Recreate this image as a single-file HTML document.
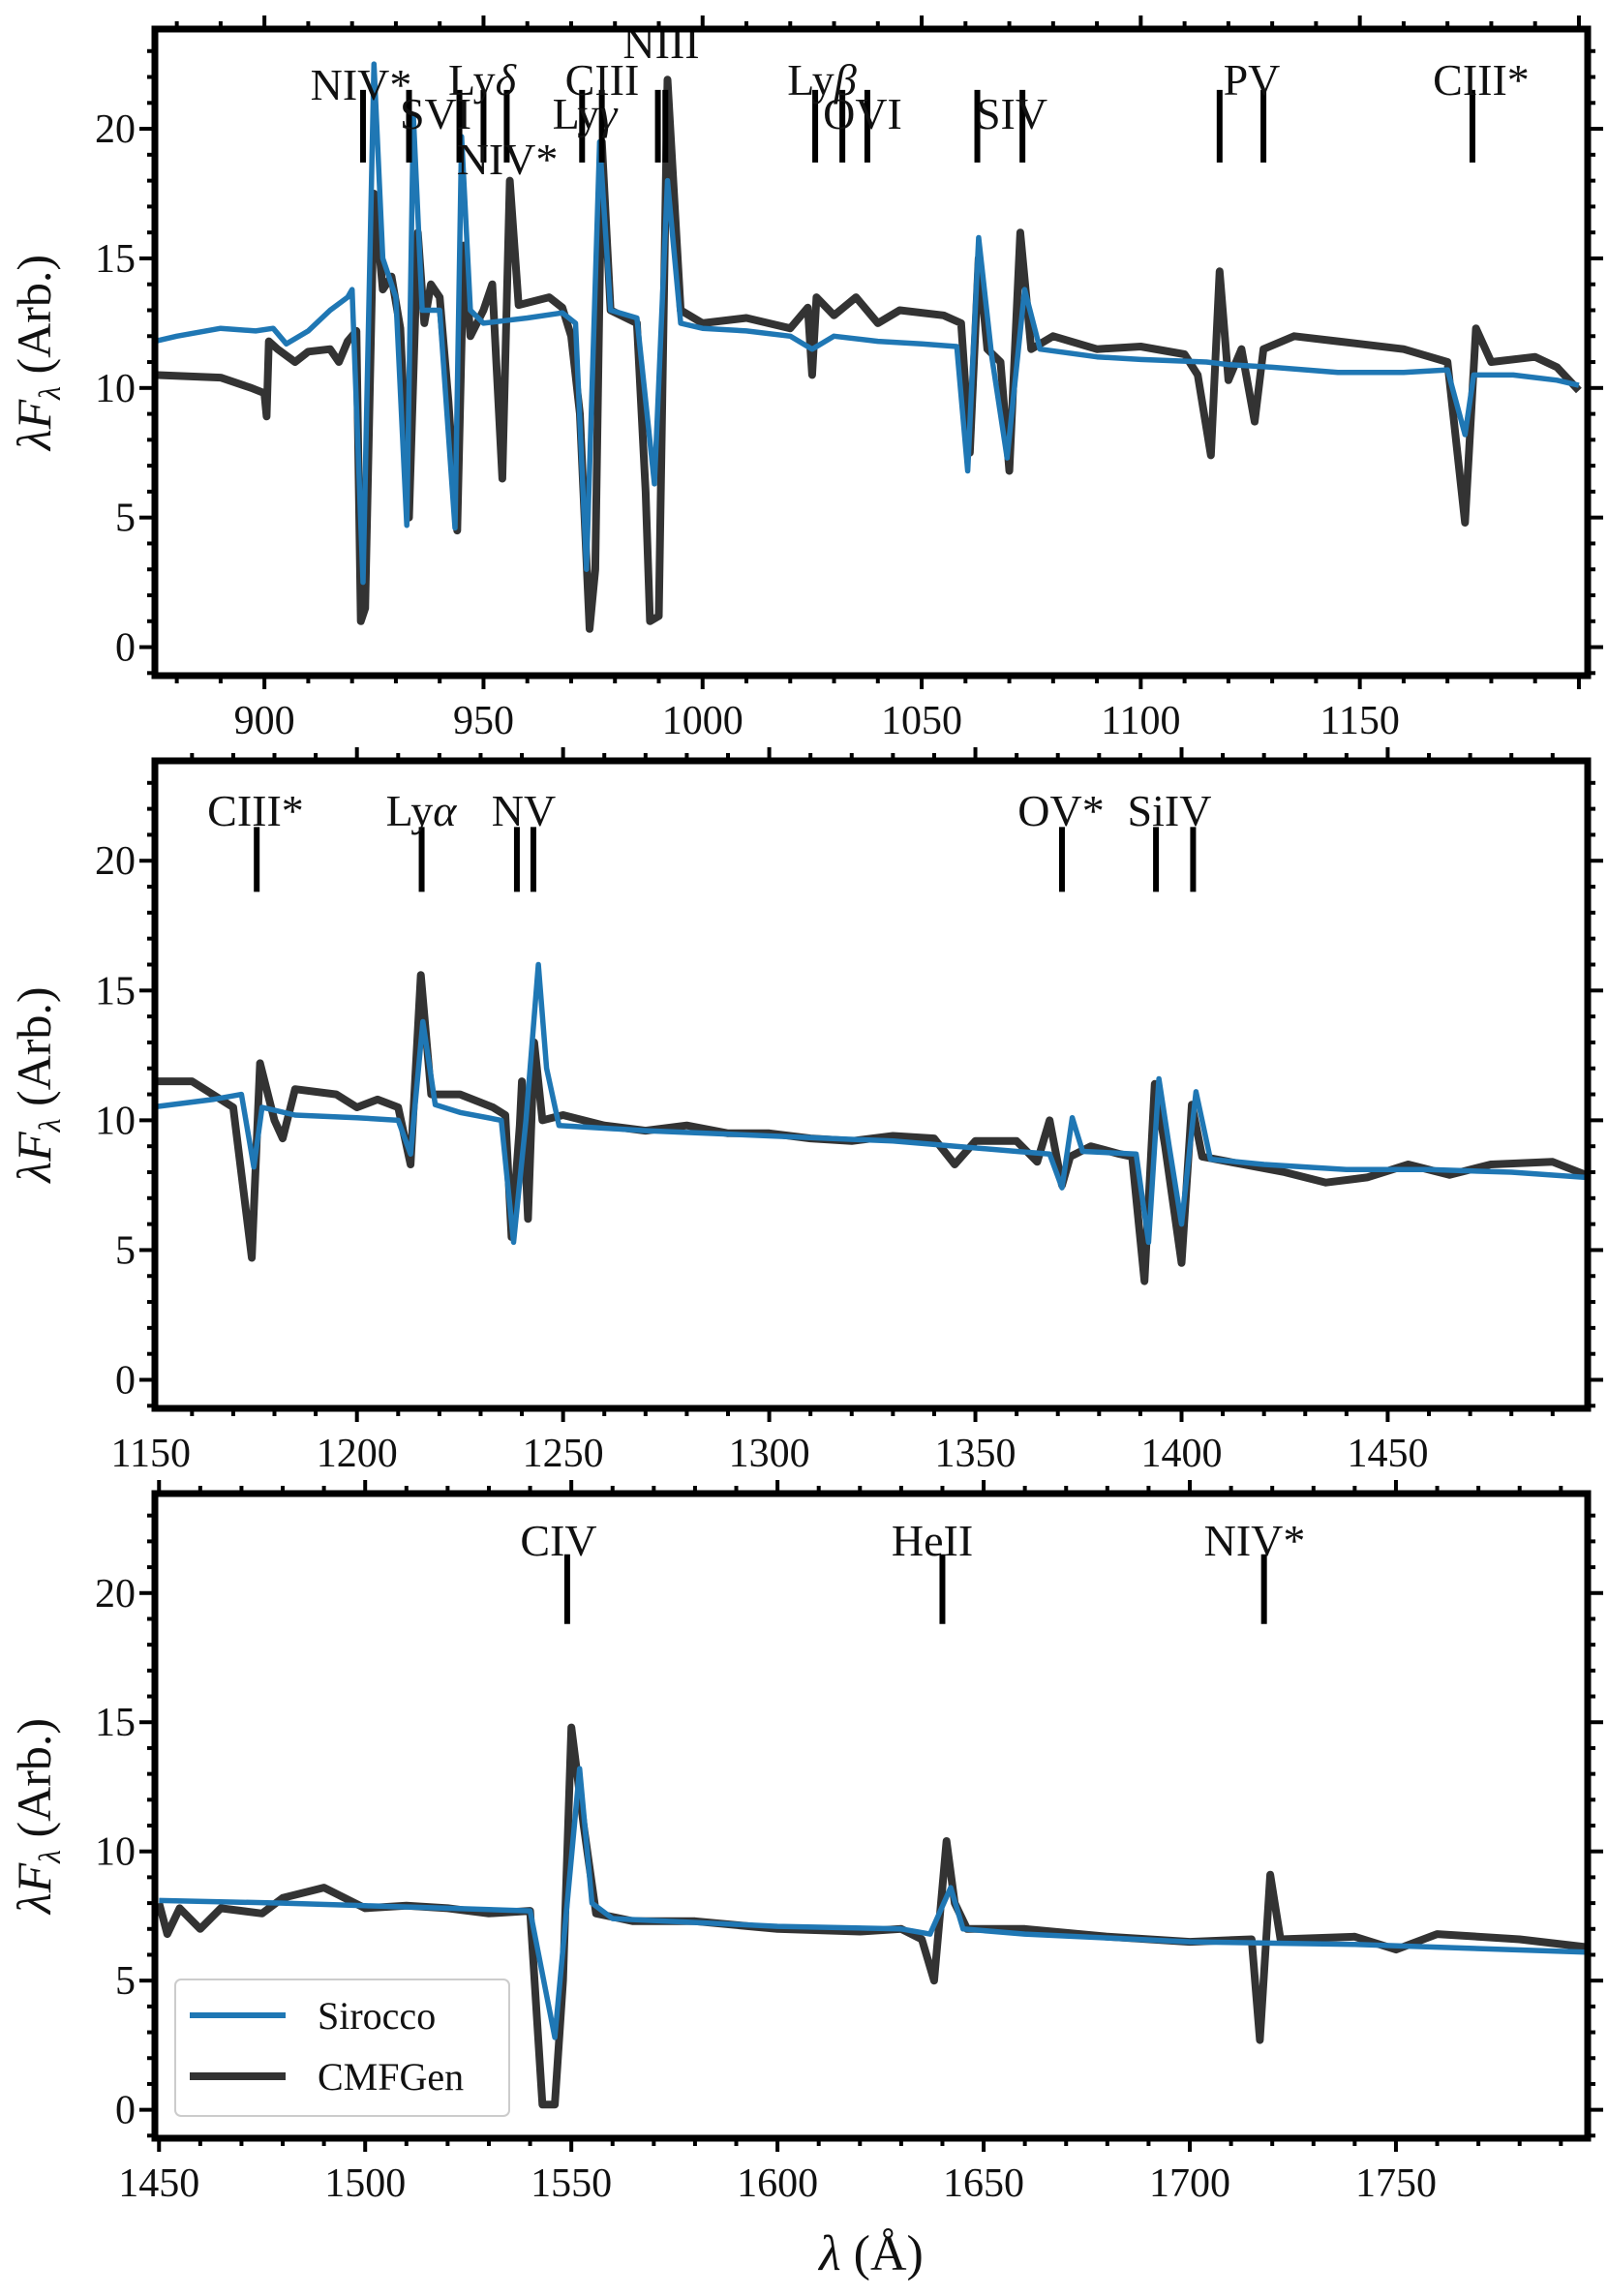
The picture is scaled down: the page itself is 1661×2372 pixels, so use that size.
<!DOCTYPE html>
<html><head><meta charset="utf-8"><style>
html,body{margin:0;padding:0;background:#fff}
svg{display:block}
text{font-family:"Liberation Serif",serif;fill:#111}
</style></head><body>
<svg id="chart" width="1661" height="2372" viewBox="0 0 1661 2372" xmlns="http://www.w3.org/2000/svg"></svg>
<script>
// ---- data ----
const p1CmfX=[875,890,897,900,900.5,901,903,907,910,915,917,919,921,922,923,925,927,929,931,933,935,936.5,938,940,942,944,945.5,947,950,952,954.3,956,958,965,968,970,972,974.2,975.5,977,979,985,987,988,990,992,995,1000,1010,1020,1024,1025,1026,1030,1035,1040,1045,1055,1059,1061,1063,1065,1068,1070,1072.5,1075,1080,1090,1100,1110,1113,1116,1118,1120,1123,1126,1128,1135,1145,1160,1170,1174,1176.5,1180,1190,1195,1200];
const p1CmfY=[10.5,10.4,10.0,9.8,8.9,11.8,11.5,11.0,11.4,11.5,11.0,11.8,12.2,1.0,1.5,17.5,13.8,14.3,12.3,5.0,16.0,12.5,14.0,13.5,9.5,4.5,15.5,12.0,13.0,14.0,6.5,18.0,13.2,13.5,13.1,12.0,9.0,0.7,3.0,19.5,13.0,12.5,6.0,1.0,1.2,21.9,13.0,12.5,12.7,12.3,13.1,10.5,13.5,12.8,13.5,12.5,13.0,12.8,12.5,7.5,15.0,11.5,11.0,6.8,16.0,11.5,12.0,11.5,11.6,11.3,10.5,7.4,14.5,10.3,11.5,8.7,11.5,12.0,11.8,11.5,11.0,4.8,12.3,11.0,11.2,10.8,9.9];
const p1SirX=[875,880,890,898,902,905,910,915,919,920,922.5,925,927,930,932.5,934,936,940,943.5,945,947,950,955,960,968,971,973.5,976.5,979,985,989,992,995,1000,1010,1020,1025,1030,1040,1050,1058,1060.5,1063,1066,1069.5,1073.5,1077,1090,1100,1115,1120,1130,1145,1160,1170,1174,1176,1185,1195,1200];
const p1SirY=[11.8,12.0,12.3,12.2,12.3,11.7,12.2,13.0,13.5,13.8,2.5,22.5,15.0,13.5,4.7,20.5,13.0,13.0,4.6,19.7,13.0,12.5,12.6,12.7,12.9,12.5,3.0,19.5,13.0,12.7,6.3,18.0,12.5,12.3,12.2,12.0,11.5,12.0,11.8,11.7,11.6,6.8,15.8,11.2,7.3,13.8,11.5,11.2,11.1,11.0,10.9,10.8,10.6,10.6,10.7,8.2,10.5,10.5,10.3,10.1];
const p2CmfX=[1150,1160,1170,1174.5,1176.5,1180,1182,1185,1195,1200,1205,1210,1213,1215.5,1218,1225,1233,1236,1237.5,1239.5,1240,1241.5,1243,1245,1250,1260,1270,1280,1290,1300,1310,1320,1330,1340,1345,1350,1360,1365,1368,1371,1373,1378,1385,1388,1391,1393.5,1396,1400,1402.5,1405,1415,1425,1435,1445,1455,1465,1475,1490,1498];
const p2CmfY=[11.5,11.5,10.5,4.7,12.2,10.0,9.3,11.2,11.0,10.5,10.8,10.5,8.3,15.6,11.0,11.0,10.5,10.2,5.5,9.8,11.5,6.2,13.0,10.0,10.2,9.8,9.6,9.8,9.5,9.5,9.3,9.2,9.4,9.3,8.3,9.2,9.2,8.4,10.0,7.5,8.6,9.0,8.7,8.6,3.8,11.4,9.0,4.5,10.6,8.6,8.3,8.0,7.6,7.8,8.3,7.9,8.3,8.4,7.9];
const p2SirX=[1150,1165,1172,1175,1177,1185,1200,1210,1213,1216,1219,1225,1235,1238,1241,1244,1246,1249,1270,1300,1330,1360,1368,1371,1373.5,1376,1389,1392,1394.5,1397,1400,1403.5,1407,1420,1440,1460,1480,1498];
const p2SirY=[10.5,10.8,11.0,8.2,10.5,10.2,10.1,10.0,8.7,13.8,10.6,10.3,10.0,5.3,10.0,16.0,12.0,9.8,9.6,9.4,9.2,8.8,8.7,7.4,10.1,8.8,8.7,5.3,11.6,9.0,6.0,11.1,8.5,8.3,8.1,8.1,8.0,7.8];
const p3CmfX=[1450,1452,1455,1460,1465,1475,1480,1490,1500,1510,1520,1530,1540,1543,1546,1548,1550,1553,1556,1565,1580,1600,1620,1630,1635,1638,1641,1643,1646,1660,1680,1700,1715,1717,1719.5,1722,1740,1750,1760,1780,1796];
const p3CmfY=[8.0,6.8,7.8,7.0,7.8,7.6,8.2,8.6,7.8,7.9,7.8,7.6,7.7,0.2,0.2,5.0,14.8,11.0,7.6,7.3,7.3,7.0,6.9,7.0,6.6,5.0,10.4,8.0,7.0,7.0,6.7,6.5,6.6,2.7,9.1,6.6,6.7,6.2,6.8,6.6,6.3];
const p3SirX=[1450,1480,1500,1520,1540,1546,1552,1555,1560,1600,1630,1637,1642,1645,1660,1700,1740,1796];
const p3SirY=[8.1,8.0,7.9,7.8,7.7,2.8,13.2,8.0,7.4,7.1,7.0,6.8,8.6,7.0,6.8,6.5,6.4,6.1];
const p1Lines=[922.5,933,944.5,950,955.3,972.5,977,989.8,991.5,1025.7,1031.9,1037.6,1062.7,1073,1118,1128,1175.7];
const p2Lines=[1175.7,1215.7,1238.8,1242.8,1371,1393.8,1402.8];
const p3Lines=[1549,1640,1718];
const yTicks=[0,5,10,15,20];

const NS='http://www.w3.org/2000/svg';
const svg=document.getElementById('chart');
function mk(tag,attrs,parent){const e=document.createElementNS(NS,tag);for(const k in attrs)e.setAttribute(k,attrs[k]);(parent||svg).appendChild(e);return e;}

const L=160,R=1640;
const panels=[
 {top:30,bot:698,x0:875,x1:1202,ticks:[900,950,1000,1050,1100,1150],cx:p1CmfX,cy:p1CmfY,sx:p1SirX,sy:p1SirY,lines:p1Lines,yl:[21.5,18.7],
  labels:[["NIV*",373,88],["SVI",450,118],["Ly",498,83,"δ"],["NIV*",524,165],["Ly",604,118,"γ"],["CIII",622,83],["NIII",683,45],["Ly",849,83,"β"],["OVI",891,118],["SIV",1045,118],["PV",1293,83],["CIII*",1530,83]]},
 {top:786,bot:1455,x0:1151,x1:1498.5,ticks:[1150,1200,1250,1300,1350,1400,1450],cx:p2CmfX,cy:p2CmfY,sx:p2SirX,sy:p2SirY,lines:p2Lines,yl:[21.3,18.8],
  labels:[["CIII*",264,838],["Ly",435,838,"α"],["NV",541,838],["OV*",1096,838],["SiIV",1208,838]]},
 {top:1543,bot:2209,x0:1449,x1:1796.5,ticks:[1450,1500,1550,1600,1650,1700,1750],cx:p3CmfX,cy:p3CmfY,sx:p3SirX,sy:p3SirY,lines:p3Lines,yl:[21.5,18.8],
  labels:[["CIV",577,1592],["HeII",963,1592],["NIV*",1296,1592]]}
];
const yMin=-1.1,yMax=23.85;

panels.forEach((p,i)=>{
 const g=mk('g',{});
 
 
 const X=v=>L+(v-p.x0)/(p.x1-p.x0)*(R-L);
 const Y=v=>p.bot-(v-yMin)/(yMax-yMin)*(p.bot-p.top);
 // clip
 const cp=mk('clipPath',{id:'cp'+i},g);mk('rect',{x:L,y:p.top,width:R-L,height:p.bot-p.top},cp);
 // ticks
 for(let v=Math.ceil(p.x0/10)*10;v<=p.x1;v+=10){
   const maj=v%50===0,len=maj?14:8,x=X(v);
   mk('line',{x1:x,x2:x,y1:p.bot,y2:p.bot+len,stroke:'#000','stroke-width':4},g);
   mk('line',{x1:x,x2:x,y1:p.top,y2:p.top-len,stroke:'#000','stroke-width':4},g);
 }
 for(let v=-1;v<=23;v++){
   const maj=v%5===0,len=maj?16:8,y=Y(v);
   mk('line',{x1:L,x2:L-len,y1:y,y2:y,stroke:'#000','stroke-width':4},g);
   mk('line',{x1:R,x2:R+len,y1:y,y2:y,stroke:'#000','stroke-width':4},g);
 }
 p.ticks.forEach(v=>{const t=mk('text',{x:X(v),y:p.bot+60,'font-size':42,'text-anchor':'middle'},g);t.textContent=v;
   
   });
 yTicks.forEach(v=>{const t=mk('text',{x:140,y:Y(v)+14,'font-size':42,'text-anchor':'end'},g);t.textContent=v;
   
   });
 // y title
 const yt=mk('text',{transform:`translate(52,${(p.top+p.bot)/2}) rotate(-90)`,'font-size':50,'text-anchor':'middle'},g);
 
 
 yt.innerHTML='<tspan font-style="italic">λF</tspan><tspan font-size="32" dy="10" font-style="italic">λ</tspan><tspan dy="-10"> (Arb.)</tspan>';
 // series
 const pts=(xs,ys)=>xs.map((x,k)=>X(x).toFixed(1)+','+Y(ys[k]).toFixed(1)).join(' ');
 const c=mk('polyline',{points:pts(p.cx,p.cy),fill:'none',stroke:'#333','stroke-width':8,'stroke-linejoin':'round','clip-path':`url(#cp${i})`},g);
 
 
 const s=mk('polyline',{points:pts(p.sx,p.sy),fill:'none',stroke:'#1f77b4','stroke-width':5.5,'stroke-linejoin':'round','clip-path':`url(#cp${i})`},g);
 
 
 // line markers
 p.lines.forEach(v=>{const m=mk('line',{x1:X(v),x2:X(v),y1:Y(p.yl[0]),y2:Y(p.yl[1]),stroke:'#000','stroke-width':6},g);
   
   });
 p.labels.forEach(l=>{const t=mk('text',{x:l[1],y:l[2]+15,'font-size':46,'text-anchor':'middle'},g);
   
   
   t.textContent=l[0];
   if(l[3]){const ts=mk('tspan',{'font-style':'italic'},t);ts.textContent=l[3];}});
 // frame
 mk('rect',{x:L,y:p.top,width:R-L,height:p.bot-p.top,fill:'none',stroke:'#000','stroke-width':7},g);
});

// legend
const lg=mk('g',{});


mk('rect',{x:181,y:2045,width:345,height:141,rx:6,fill:'#fff',stroke:'#ccc','stroke-width':2},lg);
mk('line',{x1:196,x2:295,y1:2082,y2:2082,stroke:'#1f77b4','stroke-width':6},lg);
mk('line',{x1:196,x2:295,y1:2145,y2:2145,stroke:'#333','stroke-width':8},lg);
const t1=mk('text',{x:328,y:2096,'font-size':40},lg);t1.textContent='Sirocco';


const t2=mk('text',{x:328,y:2159,'font-size':40},lg);t2.textContent='CMFGen';


// x title
const xt=mk('text',{x:900,y:2345,'font-size':52,'text-anchor':'middle'});


xt.innerHTML='<tspan font-style="italic">λ</tspan> (Å)';
</script>
</body></html>
